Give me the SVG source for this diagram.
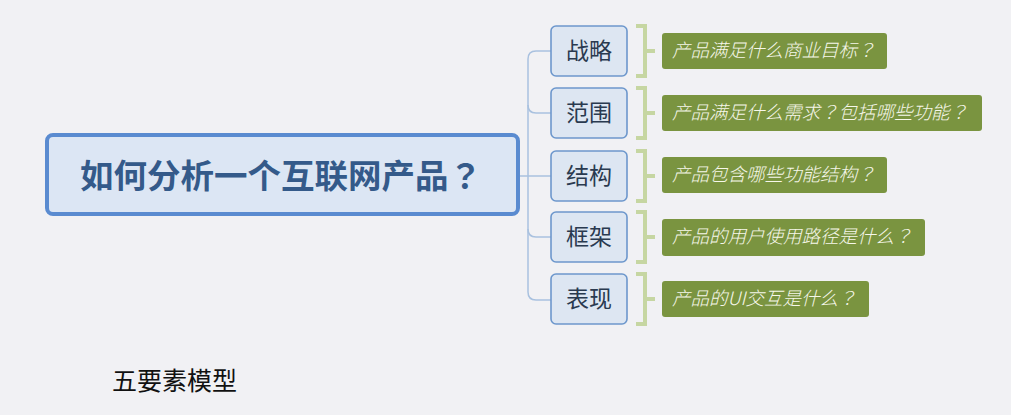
<svg xmlns="http://www.w3.org/2000/svg" width="1011" height="415" viewBox="0 0 1011 415">
<style>
.bg{fill:#f1f1f4}
.root{fill:#dce6f4;stroke:#5a8bd0;stroke-width:4}
.roott{font-family:"Noto Sans CJK SC","Noto Sans",sans-serif;font-weight:bold;font-size:33.5px;fill:#345a8a}
.sub{fill:#dde6f2;stroke:#6d97cc;stroke-width:1.6}
.subt{font-family:"Noto Sans CJK SC","Noto Sans",sans-serif;font-size:23px;fill:#2a3a50;text-anchor:middle}
.conn{fill:none;stroke:#a9c1df;stroke-width:1.5}
.br{fill:none;stroke:#c6d6a2;stroke-width:4}
.lab{fill:#7a9440}
.labt{font-family:"Noto Sans CJK SC","Noto Sans",sans-serif;font-size:18.5px;font-style:italic;font-weight:300;fill:#f6f7ea}
.q{font-family:"Noto Sans CJK JP","Noto Sans CJK SC",sans-serif}
.cap{font-family:"Noto Sans CJK SC","Noto Sans",sans-serif;font-size:25px;fill:#111}
</style>
<rect class="bg" x="0" y="0" width="1011" height="415"/>
<g id="connectors">
<path class="conn" d="M518,176 H528"/>
<path class="conn" d="M551,51 H536 Q528,51 528,59 V292 Q528,300 536,300 H551"/>
<path class="conn" d="M528,105 Q528,113 536,113 H551"/>
<path class="conn" d="M528,176 H551"/>
<path class="conn" d="M528,229 Q528,237 536,237 H551"/>
</g>
<g id="root">
<rect class="root" x="47" y="135" width="471" height="79" rx="6"/>
<text class="roott" x="80" y="188">如何分析一个互联网产品<tspan class="q">？</tspan></text>
</g>
<g id="n1">
<rect class="sub" x="551" y="26" width="76" height="50" rx="5"/>
<text class="subt" x="589" y="59">战略</text>
<path class="br" d="M636,26 H645 V76 H636 M645,51 H655"/>
<rect class="lab" x="662" y="33" width="225" height="36" rx="3"/>
<text class="labt" x="672" y="57">产品满足什么商业目标<tspan class="q">？</tspan></text>
</g>
<g id="n2">
<rect class="sub" x="551" y="88" width="76" height="50" rx="5"/>
<text class="subt" x="589" y="121">范围</text>
<path class="br" d="M636,88 H645 V138 H636 M645,113 H655"/>
<rect class="lab" x="662" y="95" width="320" height="36" rx="3"/>
<text class="labt" x="672" y="119">产品满足什么需求<tspan class="q">？</tspan>包括哪些功能<tspan class="q">？</tspan></text>
</g>
<g id="n3">
<rect class="sub" x="551" y="151" width="76" height="50" rx="5"/>
<text class="subt" x="589" y="184">结构</text>
<path class="br" d="M636,151 H645 V201 H636 M645,176 H655"/>
<rect class="lab" x="662" y="157" width="225" height="36" rx="3"/>
<text class="labt" x="672" y="181">产品包含哪些功能结构<tspan class="q">？</tspan></text>
</g>
<g id="n4">
<rect class="sub" x="551" y="212" width="76" height="50" rx="5"/>
<text class="subt" x="589" y="245">框架</text>
<path class="br" d="M636,212 H645 V262 H636 M645,237 H655"/>
<rect class="lab" x="662" y="219" width="263" height="37" rx="3"/>
<text class="labt" x="672" y="243">产品的用户使用路径是什么<tspan class="q">？</tspan></text>
</g>
<g id="n5">
<rect class="sub" x="551" y="274" width="76" height="50" rx="5"/>
<text class="subt" x="589" y="307">表现</text>
<path class="br" d="M636,274 H645 V324 H636 M645,299 H655"/>
<rect class="lab" x="662" y="281" width="207" height="36" rx="3"/>
<text class="labt" x="672" y="305">产品的UI交互是什么<tspan class="q">？</tspan></text>
</g>
<g id="caption">
<text class="cap" x="112" y="390">五要素模型</text>
</g>
</svg>
